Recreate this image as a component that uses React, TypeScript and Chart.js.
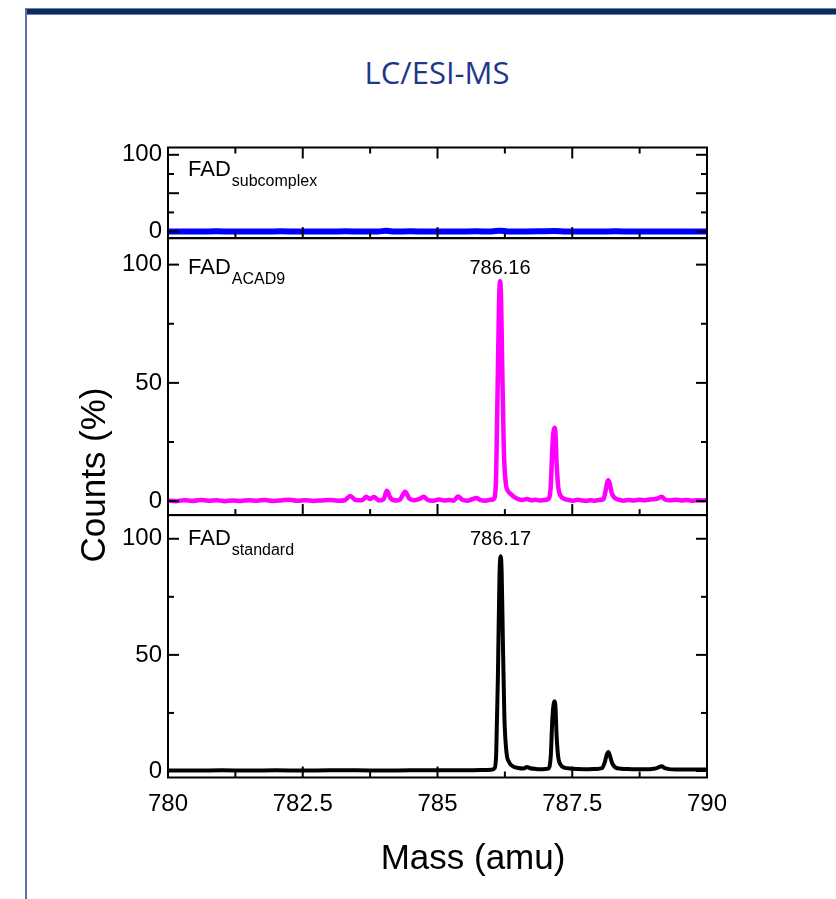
import React, { useEffect, useRef } from 'react';
import { Chart, registerables } from 'chart.js';

Chart.register(...registerables);

// ---------- data ----------
const X_TICKS = [780, 782.5, 785, 787.5, 790];
const X_MINOR = [781.25, 783.75, 786.25, 788.75];
const Y_TICKS_TOP = [0, 100];
const Y_TICKS = [0, 50, 100];
const Y_MAJOR = [0, 50, 100];
const Y_MINOR = [25, 75];

const SUB_X = [780, 780.3, 780.6, 780.9, 781.2, 781.5, 781.8, 782.1, 782.4, 782.7, 783, 783.3, 783.6, 783.9, 784.05, 784.2, 784.5, 784.8, 785.1, 785.4, 785.7, 786.0, 786.16, 786.3, 786.6, 786.9, 787.17, 787.4, 787.7, 788, 788.3, 788.6, 788.9, 789.2, 789.5, 789.8, 790];
const SUB_Y = [0.1, 0.3, 0.1, 0.4, 0.1, 0.3, 0.2, 0.4, 0.1, 0.3, 0.1, 0.4, 0.2, 0.3, 1.0, 0.2, 0.4, 0.1, 0.3, 0.2, 0.4, 0.2, 1.2, 0.3, 0.2, 0.4, 0.8, 0.2, 0.3, 0.1, 0.4, 0.2, 0.3, 0.1, 0.3, 0.2, 0.3];

const ACAD9_X = [780.0, 780.15, 780.3, 780.45, 780.6, 780.75, 780.9, 781.05, 781.2, 781.35, 781.5, 781.65, 781.8, 781.95, 782.1, 782.25, 782.4, 782.55, 782.7, 782.85, 783.0, 783.15, 783.28, 783.38, 783.48, 783.6, 783.68, 783.75, 783.82, 783.92, 784.0, 784.06, 784.13, 784.22, 784.3, 784.4, 784.48, 784.58, 784.66, 784.74, 784.82, 784.92, 785.02, 785.12, 785.22, 785.3, 785.38, 785.46, 785.56, 785.64, 785.72, 785.8, 785.9, 785.98, 786.04, 786.08, 786.11, 786.14, 786.16, 786.18, 786.2, 786.23, 786.27, 786.31, 786.36, 786.42, 786.5, 786.58, 786.66, 786.74, 786.82, 786.9, 786.98, 787.05, 787.1, 787.13, 787.15, 787.17, 787.19, 787.21, 787.24, 787.28, 787.35, 787.43, 787.52, 787.6, 787.68, 787.76, 787.84, 787.92, 788.0, 788.08, 788.12, 788.15, 788.17, 788.2, 788.23, 788.28, 788.36, 788.45, 788.55, 788.65, 788.75, 788.85, 788.95, 789.04, 789.1, 789.16, 789.22, 789.32, 789.42, 789.52, 789.62, 789.72, 789.82, 789.92, 790.0];
const ACAD9_Y = [0.3, 0.0, 0.4, 0.1, 0.5, 0.2, 0.4, 0.0, 0.3, 0.1, 0.4, 0.2, 0.5, 0.1, 0.3, 0.6, 0.2, 0.4, 0.1, 0.3, 0.5, 0.2, 0.4, 2.2, 0.5, 0.4, 1.8, 0.9, 1.7, 0.3, 0.8, 4.4, 1.2, 0.3, 0.6, 4.0, 1.0, 0.4, 0.9, 1.8, 0.5, 0.2, 0.7, 0.3, 0.5, 0.2, 2.0, 0.6, 0.2, 0.8, 1.3, 0.4, 0.2, 0.6, 0.8, 6, 40, 82, 93, 85, 58, 22, 7, 4.2, 3, 1.8, 0.8, 0.5, 0.9, 0.4, 0.6, 0.3, 0.5, 0.8, 6, 22, 29, 31, 28, 16, 6, 2.4, 1.0, 0.5, 0.2, 0.6, 0.3, 0.1, 0.4, 0.2, 0.5, 0.9, 4.5, 8, 8.8, 7, 3.6, 1.5, 0.6, 0.2, 0.5, 0.3, 0.6, 0.4, 0.7, 0.9, 1.3, 1.9, 0.7, 0.4, 0.6, 0.3, 0.5, 0.2, 0.4, 0.3, 0.4];

const STD_X = [780, 780.5, 781, 781.5, 782, 782.5, 783, 783.5, 784, 784.5, 785, 785.5, 785.8, 786.0, 786.06, 786.09, 786.12, 786.15, 786.17, 786.19, 786.21, 786.24, 786.28, 786.33, 786.4, 786.5, 786.6, 786.66, 786.72, 786.82, 786.95, 787.05, 787.1, 787.13, 787.15, 787.17, 787.19, 787.21, 787.24, 787.29, 787.36, 787.45, 787.6, 787.8, 787.95, 788.05, 788.1, 788.14, 788.17, 788.2, 788.24, 788.3, 788.4, 788.6, 788.8, 788.95, 789.05, 789.11, 789.16, 789.22, 789.3, 789.5, 789.75, 790];
const STD_Y = [0.2, 0.2, 0.3, 0.2, 0.3, 0.2, 0.3, 0.3, 0.2, 0.3, 0.3, 0.3, 0.4, 0.5, 1.2, 8, 40, 84, 92.5, 86, 60, 24, 8, 3.8, 2.0, 1.3, 1.1, 1.7, 1.2, 0.9, 0.8, 1.0, 6, 22, 28, 30, 27, 15, 6, 2.5, 1.4, 1.1, 0.9, 0.8, 0.9, 1.2, 3.5, 7, 8.2, 6.5, 3.4, 1.5, 1.0, 0.8, 0.7, 0.8, 1.1, 1.7, 2.0, 1.2, 0.8, 0.6, 0.6, 0.6];

const PANEL_SUBS = ['subcomplex', 'ACAD9', 'standard'];
const PANEL_LABEL_Y = [72, 96, 97.5];
const PEAK_LABELS = ['786.16', '786.17'];
const PEAK_X = [786.16, 786.17];
const PEAK_LABEL_Y = [96, 97.3];

const FONT = "'Liberation Sans', Arial, Helvetica, sans-serif";

const toPts = (xs: number[], ys: number[]) => xs.map((x, i) => ({ x, y: ys[i] }));

const setTicks = (vals: number[]) => (s: any) => {
  s.ticks = vals.map((v) => ({ value: v }));
};

const yAxis = (weight: number, min: number, max: number, ticks: number[]) => ({
  type: 'linear',
  position: 'left',
  stack: 'panels',
  stackWeight: weight,
  min,
  max,
  afterBuildTicks: setTicks(ticks),
  afterFit: (s: any) => {
    s.width = 68;
  },
  grid: { display: false, drawTicks: false },
  border: { display: false },
  ticks: {
    color: '#000',
    padding: 6,
    font: { family: FONT, size: 24 },
    callback: (v: any) => String(v),
  },
});

const decor = {
  id: 'decor',
  afterDraw(chart: any) {
    const ctx = chart.ctx;
    const xs = chart.scales.x;
    const panels = [chart.scales.yTop, chart.scales.yMid, chart.scales.yBot];
    ctx.save();
    ctx.strokeStyle = '#000';
    ctx.lineWidth = 2;
    const line = (x1: number, y1: number, x2: number, y2: number) => {
      ctx.beginPath();
      ctx.moveTo(x1, y1);
      ctx.lineTo(x2, y2);
      ctx.stroke();
    };
    panels.forEach((ys: any, i: number) => {
      ctx.strokeRect(xs.left, ys.top, xs.right - xs.left, ys.bottom - ys.top);
      [...Y_MAJOR, ...Y_MINOR].forEach((v) => {
        const y = ys.getPixelForValue(v);
        const len = Y_MAJOR.includes(v) ? 11 : 6;
        line(xs.left, y, xs.left + len, y);
        line(xs.right - len, y, xs.right, y);
      });
      [...X_TICKS, ...X_MINOR].forEach((v) => {
        const x = xs.getPixelForValue(v);
        const len = X_TICKS.includes(v) ? 11 : 6;
        line(x, ys.bottom, x, ys.bottom - len);
        if (i === 0) line(x, ys.top, x, ys.top + len);
      });
      // panel label FAD_sub
      const by = ys.getPixelForValue(PANEL_LABEL_Y[i]);
      const lx = xs.left + 20;
      ctx.fillStyle = '#000';
      ctx.textAlign = 'left';
      ctx.textBaseline = 'alphabetic';
      ctx.font = `22px ${FONT}`;
      ctx.fillText('FAD', lx, by);
      const w = ctx.measureText('FAD').width;
      ctx.font = `16px ${FONT}`;
      ctx.fillText(PANEL_SUBS[i], lx + w + 1, by + 10);
    });
    // peak labels
    ctx.font = `20px ${FONT}`;
    ctx.textAlign = 'center';
    [chart.scales.yMid, chart.scales.yBot].forEach((ys: any, i: number) => {
      ctx.fillText(PEAK_LABELS[i], xs.getPixelForValue(PEAK_X[i]), ys.getPixelForValue(PEAK_LABEL_Y[i]));
    });
    // axis titles
    ctx.font = `35px ${FONT}`;
    ctx.fillText('Mass (amu)', 473, 869);
    ctx.translate(105, 475);
    ctx.rotate(-Math.PI / 2);
    ctx.fillText('Counts (%)', 0, 0);
    ctx.restore();
  },
};

export default function App() {
  const ref = useRef<HTMLCanvasElement | null>(null);
  useEffect(() => {
    if (!ref.current) return;
    const chart = new Chart(ref.current, {
      type: 'line',
      data: {
        datasets: [
          {
            data: toPts(STD_X, STD_Y),
            yAxisID: 'yBot',
            borderColor: '#000000',
            borderWidth: 4,
            pointRadius: 0,
            cubicInterpolationMode: 'monotone',
          },
          {
            data: toPts(ACAD9_X, ACAD9_Y),
            yAxisID: 'yMid',
            borderColor: '#ff00ff',
            borderWidth: 4.5,
            pointRadius: 0,
            cubicInterpolationMode: 'monotone',
          },
          {
            data: toPts(SUB_X, SUB_Y),
            yAxisID: 'yTop',
            borderColor: '#0000ff',
            borderWidth: 6,
            pointRadius: 0,
            cubicInterpolationMode: 'monotone',
          },
        ],
      } as any,
      options: {
        animation: false,
        responsive: false,
        maintainAspectRatio: false,
        events: [],
        layout: { padding: { left: 100, right: 129, top: 147.5, bottom: 76.5 } },
        plugins: { legend: { display: false }, title: { display: false }, tooltip: { enabled: false } },
        scales: {
          x: {
            type: 'linear',
            position: 'bottom',
            min: 780,
            max: 790,
            afterBuildTicks: setTicks(X_TICKS),
            afterFit: (s: any) => {
              s.height = 45;
            },
            grid: { display: false, drawTicks: false },
            border: { display: false },
            ticks: {
              color: '#000',
              padding: 12,
              maxRotation: 0,
              autoSkip: false,
              font: { family: FONT, size: 24 },
              callback: (v: any) => String(v),
            },
          },
          yBot: yAxis(262, -2.8, 110.2, Y_TICKS),
          yMid: yAxis(276.5, -5.9, 111.2, Y_TICKS),
          yTop: yAxis(90.5, -8.5, 109.5, Y_TICKS_TOP),
        } as any,
      },
      plugins: [decor],
    });
    return () => chart.destroy();
  }, []);

  return (
    <div style={{ position: 'fixed', left: 0, top: 0, width: 836, height: 899, background: '#fff', overflow: 'hidden' }}>
      <div style={{ position: 'absolute', left: 25, top: 8, width: 811, height: 7, background: '#0d2a5e', borderTop: '1px solid #6f84b0', borderBottom: '1px solid #6f84b0', boxSizing: 'border-box' }} />
      <div style={{ position: 'absolute', left: 25, top: 8, width: 2, height: 891, background: '#5c72a3' }} />
      <div
        style={{
          position: 'absolute',
          left: 287,
          top: 56,
          width: 300,
          textAlign: 'center',
          fontFamily: "'Open Sans', sans-serif",
          fontSize: 31,
          lineHeight: '32px',
          color: '#1f3789',
        }}
      >
        LC/ESI-MS
      </div>
      <canvas ref={ref} width={836} height={899} style={{ position: 'absolute', left: 0, top: 0 }} />
    </div>
  );
}
